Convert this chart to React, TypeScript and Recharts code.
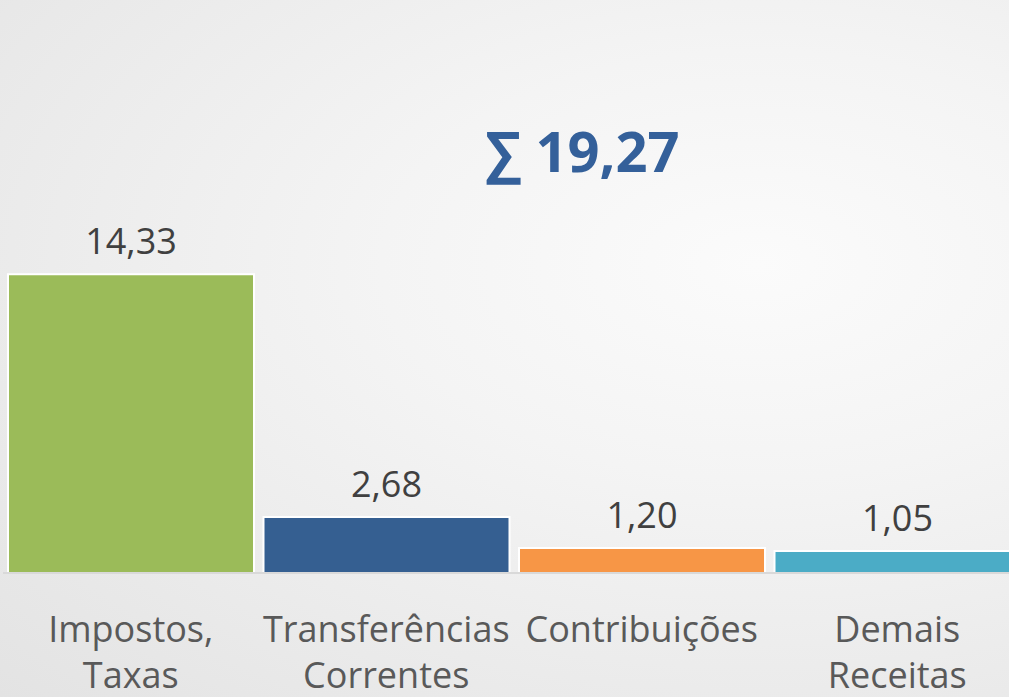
import React from "react";
import { BarChart, Bar, XAxis, YAxis, Cell, LabelList } from "recharts";

const categories = ["Impostos,\nTaxas", "Transferências\nCorrentes", "Contribuições", "Demais\nReceitas"];
const values = [14.33, 2.68, 1.2, 1.05];
const colors = ["#9BBB59", "#355F91", "#F79646", "#4BACC6"];
const totalLabel = "∑ 19,27";

const data = categories.map((c, i) => ({ name: c, value: values[i] }));

const fmt = (v: number) => v.toFixed(2).replace(".", ",");

const CatTick = (props: any) => {
  const { x, y, payload } = props;
  const lines = String(payload.value).split("\n");
  return (
    <g>
      {lines.map((l: string, i: number) => (
        <text
          key={i}
          x={x}
          y={y + 61 + i * 46}
          textAnchor="middle"
          fontSize={36}
          fill="#595959"
          fontFamily="'Open Sans', sans-serif"
        >
          {l}
        </text>
      ))}
    </g>
  );
};

export default function App() {
  return (
    <div
      style={{
        position: "absolute",
        left: 0,
        top: 0,
        width: 1009,
        height: 697,
        overflow: "hidden",
        background: "radial-gradient(ellipse at 75% 38%, #fbfbfb 0%, #f4f4f4 35%, #e7e7e7 85%, #e3e3e3 100%)",
      }}
    >
      <div
        style={{
          position: "absolute",
          left: 0,
          top: 121,
          width: 1165,
          textAlign: "center",
          fontFamily: "'Open Sans', sans-serif",
          fontWeight: 700,
          fontSize: 56,
          color: "#34609A",
          lineHeight: "58px",
        }}
      >
        {totalLabel}
      </div>
      <BarChart
        width={1025}
        height={697}
        data={data}
        margin={{ top: 156, right: 0, bottom: 0, left: 3 }}
        barCategoryGap={5}
      >
        <YAxis hide domain={[0, 20]} />
        <XAxis
          dataKey="name"
          height={124}
          axisLine={{ stroke: "#d9d9d9", strokeWidth: 2 }}
          tickLine={false}
          interval={0}
          tick={<CatTick />}
        />
        <Bar dataKey="value" isAnimationActive={false} stroke="#ffffff" strokeWidth={2}>
          {data.map((d, i) => (
            <Cell key={i} fill={colors[i]} />
          ))}
          <LabelList
            dataKey="value"
            position="top"
            offset={20}
            formatter={(v: any) => fmt(Number(v))}
            style={{ fontSize: 36, fill: "#404040", fontFamily: "'Open Sans', sans-serif" }}
          />
        </Bar>
      </BarChart>
    </div>
  );
}
